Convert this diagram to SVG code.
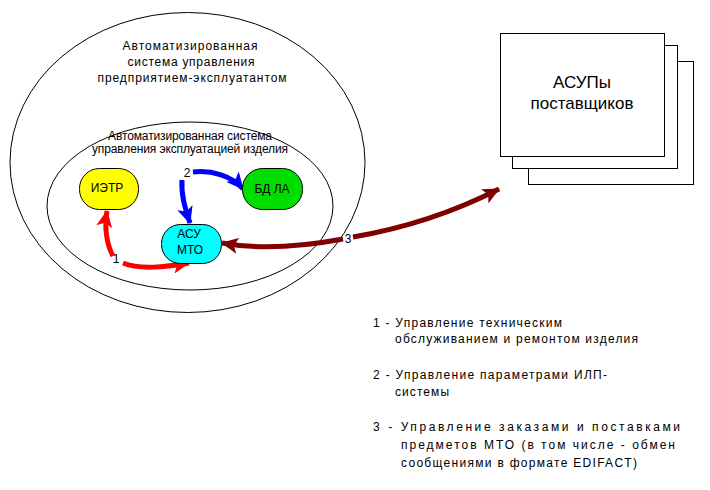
<svg xmlns="http://www.w3.org/2000/svg" width="710" height="490" viewBox="0 0 710 490">
<style>
text{font-family:"Liberation Sans",Arial,sans-serif;fill:#000}
.t{font-size:12px;text-anchor:middle}
.n{font-size:12px;text-anchor:middle}
.l{font-size:12px}
.node{stroke:#000;stroke-width:1}
.ell{fill:none;stroke:#000;stroke-width:1}
.box{fill:#fff;stroke:#000;stroke-width:1}
</style>
<defs>
<marker id="hr" markerUnits="userSpaceOnUse" markerWidth="18" markerHeight="16" refX="16" refY="8" orient="auto"><path d="M0,0 L17,8 L0,16 L4,8 Z" fill="#f00"/></marker>
<marker id="hb" markerUnits="userSpaceOnUse" markerWidth="18" markerHeight="16" refX="16" refY="8" orient="auto"><path d="M0,0 L17,8 L0,16 L4,8 Z" fill="#00f"/></marker>
<marker id="hd" markerUnits="userSpaceOnUse" markerWidth="18" markerHeight="16" refX="16" refY="8" orient="auto"><path d="M0,0 L17,8 L0,16 L4,8 Z" fill="#800000"/></marker>
</defs>
<g id="outer-system">
<ellipse class="ell" cx="187.5" cy="162.5" rx="177.5" ry="150"/>
<text class="t" x="190" y="50" textLength="135" lengthAdjust="spacing">Автоматизированная</text>
<text class="t" x="191" y="66" textLength="127" lengthAdjust="spacing">система управления</text>
<text class="t" x="192" y="82" textLength="189" lengthAdjust="spacing">предприятием-эксплуатантом</text>
</g>
<g id="inner-system">
<ellipse class="ell" cx="190" cy="206" rx="143" ry="84"/>
<text class="t" x="190" y="140" textLength="164" lengthAdjust="spacing">Автоматизированная система</text>
<text class="t" x="190" y="153" textLength="196" lengthAdjust="spacing">управления эксплуатацией изделия</text>
</g>
<g id="suppliers">
<rect class="box" x="528.5" y="61.5" width="165" height="123"/>
<rect class="box" x="512.5" y="45.5" width="165" height="123"/>
<rect class="box" x="500.5" y="33.5" width="164" height="123"/>
<text class="n" x="582" y="88" style="font-size:17px">АСУПы</text>
<text class="n" x="582" y="109" style="font-size:17px">поставщиков</text>
</g>
<g id="connectors">
<path d="M113,256 C107,245 104,228 107,211" fill="none" stroke="#f00" stroke-width="5" marker-end="url(#hr)"/>
<path d="M123,263 C140,270 165,267 189,263" fill="none" stroke="#f00" stroke-width="5" marker-end="url(#hr)"/>
<path d="M193,172 C212,170 232,176 243,189" fill="none" stroke="#00f" stroke-width="5" marker-end="url(#hb)"/>
<path d="M182,180 C181,195 185,208 190,223" fill="none" stroke="#00f" stroke-width="5" marker-end="url(#hb)"/>
<path d="M343,239 C300,247 260,250 222,243" fill="none" stroke="#800000" stroke-width="5" marker-end="url(#hd)"/>
<path d="M353,237 C400,229 450,214 499,189" fill="none" stroke="#800000" stroke-width="5" marker-end="url(#hd)"/>
<text x="116" y="263" class="n">1</text>
<text x="187" y="177" class="n">2</text>
<text x="348" y="243" class="n">3</text>
</g>
<g id="ietr">
<rect class="node" x="79.5" y="168.5" width="59" height="41" rx="20" ry="20" fill="#ff0"/>
<text class="n" x="107" y="192">ИЭТР</text>
</g>
<g id="bdla">
<rect class="node" x="242.5" y="168.5" width="60" height="41" rx="20" ry="20" fill="#0d0"/>
<text class="n" x="272" y="193">БД ЛА</text>
</g>
<g id="asu-mto">
<rect class="node" x="161.5" y="224.5" width="60" height="39" rx="19" ry="19" fill="#0ff"/>
<text class="n" x="189" y="238">АСУ</text>
<text class="n" x="190" y="254">МТО</text>
</g>
<g id="legend">
<text class="l" x="373" y="327" textLength="189" lengthAdjust="spacing">1 - Управление техническим</text>
<text class="l" x="395" y="343" textLength="243" lengthAdjust="spacing">обслуживанием и ремонтом изделия</text>
<text class="l" x="373" y="379" textLength="234" lengthAdjust="spacing">2 - Управление параметрами ИЛП-</text>
<text class="l" x="395" y="396" textLength="54" lengthAdjust="spacing">системы</text>
<text class="l" x="373" y="431" textLength="307" lengthAdjust="spacing">3 - Управление заказами и поставками</text>
<text class="l" x="401" y="449" textLength="274" lengthAdjust="spacing">предметов МТО (в том числе - обмен</text>
<text class="l" x="401" y="467" textLength="236" lengthAdjust="spacing">сообщениями в формате EDIFACT)</text>
</g>
</svg>
